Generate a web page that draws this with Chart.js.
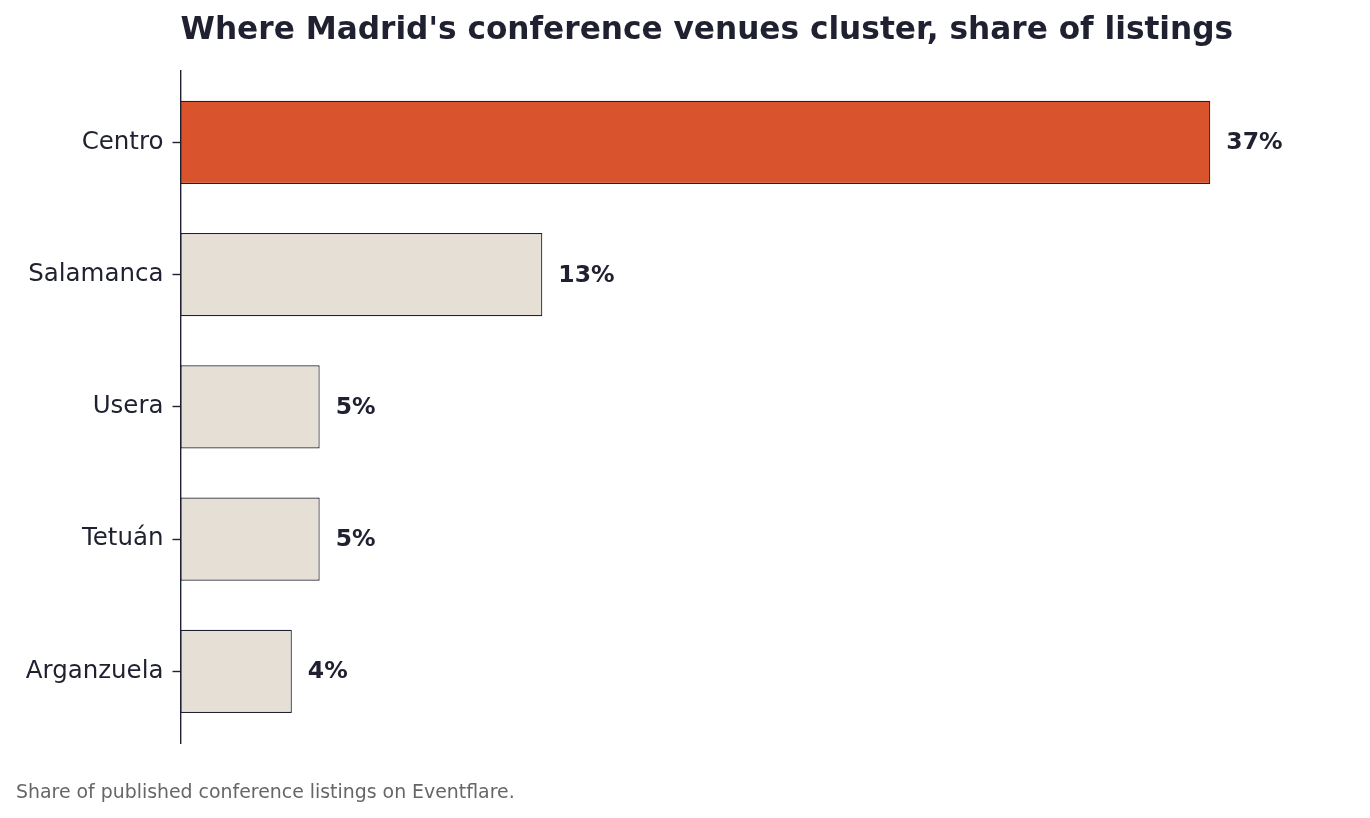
<!DOCTYPE html>
<html>
<head>
<meta charset="utf-8">
<script src="https://cdn.jsdelivr.net/npm/chart.js@4.4.1/dist/chart.umd.min.js"></script>
<style>
  html, body { margin: 0; padding: 0; background: #fff; }
  #wrap { width: 1370px; height: 818px; }
</style>
</head>
<body>
<div id="wrap"><canvas id="barChart"></canvas></div>
<script>
const categories = ['Centro', 'Salamanca', 'Usera', 'Tetuán', 'Arganzuela'];
const shares = [37, 13, 5, 5, 4];
const barColors = ['#d9532c', '#e6dfd5', '#e6dfd5', '#e6dfd5', '#e6dfd5'];

const ink = '#1f2130';
const font = 'DejaVu Sans';

// draws the "37%" style labels at the end of each bar
const valueLabels = {
    id: 'valueLabels',
    afterDatasetsDraw(chart) {
        const ctx = chart.ctx;
        const meta = chart.getDatasetMeta(0);
        ctx.save();
        ctx.font = 'bold 23.5px "' + font + '"';
        ctx.fillStyle = ink;
        ctx.textAlign = 'left';
        ctx.textBaseline = 'middle';
        meta.data.forEach((bar, i) => {
            ctx.fillText(shares[i] + '%', bar.x + 16, bar.y + 1);
        });
        ctx.restore();
    }
};

const ctx = document.getElementById('barChart').getContext('2d');
const barChart = new Chart(ctx, {
    type: 'bar',
    data: {
        datasets: [{
            data: shares.map((v, i) => ({ x: v, y: i })),
            backgroundColor: barColors,
            borderColor: ink,
            borderWidth: 1.2,
            borderSkipped: false,
            barPercentage: 0.63,
            categoryPercentage: 1
        }]
    },
    options: {
        indexAxis: 'y',
        responsive: true,
        maintainAspectRatio: false,
        animation: false,
        layout: { padding: { left: 16, right: 31, top: 0, bottom: 0 } },
        plugins: {
            legend: { display: false },
            tooltip: { enabled: false },
            title: {
                display: true,
                text: "Where Madrid's conference venues cluster, share of listings",
                align: 'start',
                fullSize: false,
                color: ink,
                font: { family: font, size: 31.2, weight: 'bold', lineHeight: 1.2 },
                padding: { top: 12, bottom: 21 }
            },
            subtitle: {
                display: true,
                position: 'bottom',
                text: 'Share of published conference listings on Eventflare.',
                align: 'start',
                color: '#666666',
                font: { family: font, size: 18.9, lineHeight: 1.2 },
                padding: { top: 38, bottom: 14 }
            }
        },
        scales: {
            x: {
                type: 'linear',
                display: false,
                min: 0,
                max: 41.625
            },
            y: {
                type: 'linear',
                reverse: true,
                offset: false,
                min: -0.544,
                max: 4.544,
                afterBuildTicks(scale) {
                    scale.ticks = categories.map((_, i) => ({ value: i }));
                },
                afterFit(scale) {
                    scale.width = 164.5;
                },
                ticks: {
                    callback: (v) => categories[v],
                    color: ink,
                    padding: 9,
                    font: { family: font, size: 24.5 }
                },
                grid: {
                    display: true,
                    offset: false,
                    drawOnChartArea: false,
                    drawTicks: true,
                    tickLength: 8,
                    tickColor: ink,
                    tickWidth: 1.4
                },
                border: { display: true, color: ink, width: 1.4 }
            }
        }
    },
    plugins: [valueLabels]
});
</script>
</body>
</html>
